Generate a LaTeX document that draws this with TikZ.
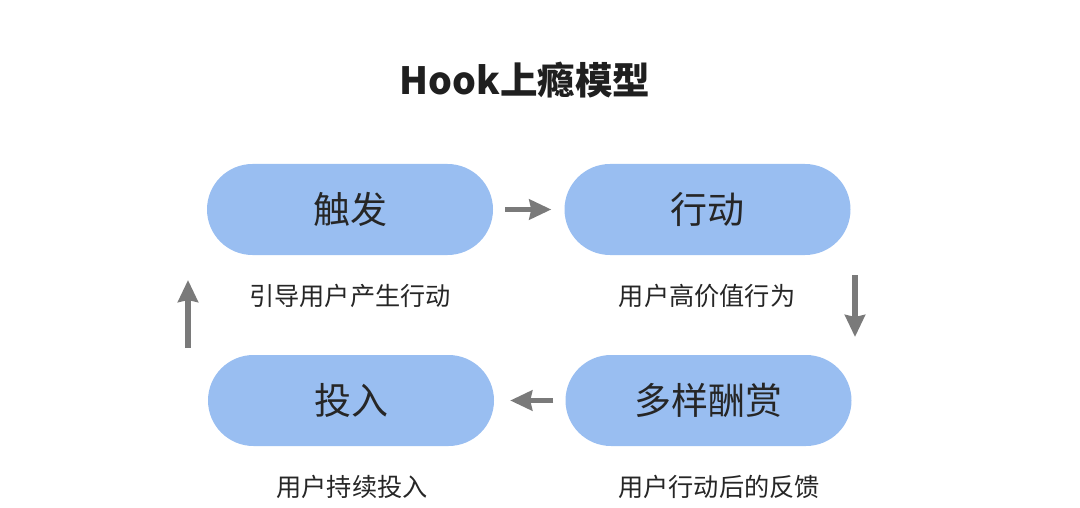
\documentclass[tikz,border=0pt]{standalone}
\usepackage{fontspec}
\newfontfamily\cjk{Noto Sans CJK SC}
\usetikzlibrary{arrows.meta}
\definecolor{pillblue}{HTML}{99BEF1}
\definecolor{arrowgray}{HTML}{7A7A7A}
\tikzset{
  pill/.style={fill=pillblue, rounded corners=45.5pt, minimum width=286pt,
    minimum height=91pt, inner sep=0pt, text=black!85, font=\cjk\fontsize{37}{40}\selectfont},
  caption/.style={inner sep=0pt, text=black!85, font=\cjk\fontsize{25.2}{28}\selectfont},
  flow/.style={draw=arrowgray, line width=5.5pt,
    -{Stealth[width=20pt,length=22pt,inset=2pt]}}
}
\begin{document}
\begin{tikzpicture}[x=1pt, y=-1pt]
        \useasboundingbox (0,0) rectangle (1080,508);
        \node[font=\cjk\bfseries\fontsize{37.5}{40}\selectfont, text=black!88] (title) at (525,80) {Hook上瘾模型};
        \node[pill] (chufa) at (350,209.5) {触发};
        \node[pill] (xingdong) at (707.5,209.5) {行动};
        \node[pill] (touru) at (351,400.5) {投入};
        \node[pill] (jiangshang) at (708.5,400.5) {多样酬赏};
        \node[caption] (chufatxt) at (350,296) {引导用户产生行动};
        \node[caption] (xingdongtxt) at (707,296) {用户高价值行为};
        \node[caption] (tourutxt) at (352,487) {用户持续投入};
        \node[caption] (jiangshangtxt) at (719,487) {用户行动后的反馈};
        \coordinate (downtop) at (855,275);
        \coordinate (downtip) at (855,337);
        \coordinate (upfoot) at (188,348);
        \coordinate (uptip) at (188,280);
        \draw[flow, shorten <=12pt, shorten >=13pt] (chufa.east) -- (xingdong.west);
        \draw[flow] (downtop) -- (downtip);
        \draw[flow, shorten <=12pt, shorten >=16pt] (jiangshang.west) -- (touru.east);
        \draw[flow] (upfoot) -- (uptip);
        \end{tikzpicture}
\end{document}
